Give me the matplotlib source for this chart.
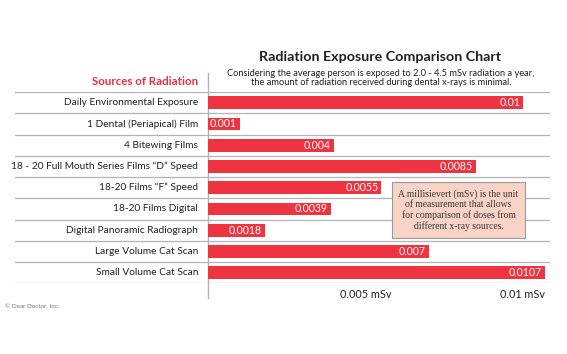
import matplotlib
matplotlib.use("Agg")
import matplotlib.pyplot as plt
from matplotlib.patches import FancyBboxPatch

categories = [
    "Daily Environmental Exposure",
    "1 Dental (Periapical) Film",
    "4 Bitewing Films",
    "18 - 20 Full Mouth Series Films \u201cD\u201d Speed",
    "18-20 Films \u201cF\u201d Speed",
    "18-20 Films Digital",
    "Digital Panoramic Radiograph",
    "Large Volume Cat Scan",
    "Small Volume Cat Scan",
]
values = [0.01, 0.001, 0.004, 0.0085, 0.0055, 0.0039, 0.0018, 0.007, 0.0107]
value_labels = ["0.01", "0.001", "0.004", "0.0085", "0.0055", "0.0039", "0.0018", "0.007", "0.0107"]
tick_values = [0.005, 0.01]
tick_labels = ["0.005 mSv", "0.01 mSv"]

FONT = "Lato"
plt.rcParams['font.family'] = [FONT, 'DejaVu Sans']

W, H = 567, 354
fig = plt.figure(figsize=(W / 100, H / 100), dpi=100)
fig.patch.set_facecolor("white")

ax_left, ax_right = 15, 550
ax_top, ax_bot = 92, 283.3
zero_px = 208
px_per_unit = 31.5 / 0.001
u = 1 / px_per_unit

ax = fig.add_axes([ax_left / W, (H - ax_bot) / H, (ax_right - ax_left) / W, (ax_bot - ax_top) / H])
ax.set_xlim(-(zero_px - ax_left) * u, (ax_right - zero_px) * u)
n = len(categories)
ax.set_ylim(n - 0.5, -0.5)
for s in ax.spines.values():
    s.set_visible(False)

red = "#EE3341"
grid = "#B4B4B4"
dark = "#231F20"

for k in range(n + 1):
    ax.axhline(k - 0.5, color=grid, lw=0.9, zorder=1)
ax.axvline(0, ymin=-(298 - ax_bot) / (ax_bot - ax_top), ymax=1 + (ax_top - 73) / (ax_bot - ax_top),
           color=grid, lw=1.0, clip_on=False, zorder=1)

ax.barh(range(n), values, height=0.6, color=red, zorder=2)
for i, (v, lab) in enumerate(zip(values, value_labels)):
    ax.text(v - 3 * u, i, lab, ha="right", va="center", color="white", fontsize=7.6, zorder=3)
    ax.text(-10 * u, i, categories[i], ha="right", va="center", color=dark, fontsize=7.3)

ax.set_yticks([])
ax.set_xticks(tick_values)
ax.set_xticklabels(tick_labels, fontsize=7.8, color=dark)
ax.tick_params(axis="x", length=0, pad=4)

ax.text(-10 * u, -0.5 - (92 - 81.7) / 21.26, "Sources of Radiation", ha="right", va="center",
        color="#E8303F", fontsize=8.3, fontweight="bold")

fig.text(380 / W, 1 - 57 / H, "Radiation Exposure Comparison Chart", ha="center", va="center",
         fontsize=10.3, fontweight="bold", color=dark)
fig.text(381 / W, 1 - 78 / H,
         "Considering the average person is exposed to 2.0 - 4.5 mSv radiation a year,\n"
         "the amount of radiation received during dental x-rays is minimal.",
         ha="center", va="center", fontsize=6.7, color=dark, linespacing=1.05)

# annotation box
bx0, bx1, by0, by1 = 392, 525, 182, 238
box = FancyBboxPatch((bx0 / W, 1 - by1 / H), (bx1 - bx0) / W, (by1 - by0) / H,
                     boxstyle="square,pad=0", transform=fig.transFigure,
                     facecolor="#F8D3C6", edgecolor="#9A9A9A", lw=0.8, zorder=5)
fig.patches.append(box)
fig.text((bx0 + bx1) / 2 / W, 1 - (by0 + by1) / 2 / H,
         "A millisievert (mSv) is the unit\nof measurement that allows\n"
         "for comparison of doses from\ndifferent x-ray sources.",
         ha="center", va="center", fontsize=6.9, color="#3A3A3A", family=["Liberation Serif"],
         linespacing=1.15, zorder=6)

fig.text(5 / W, 1 - 307 / H, "\u00a9 Dear Doctor, Inc.", ha="left", va="center",
         fontsize=4.5, color="#777777")

fig.savefig("out.png", dpi=100)
